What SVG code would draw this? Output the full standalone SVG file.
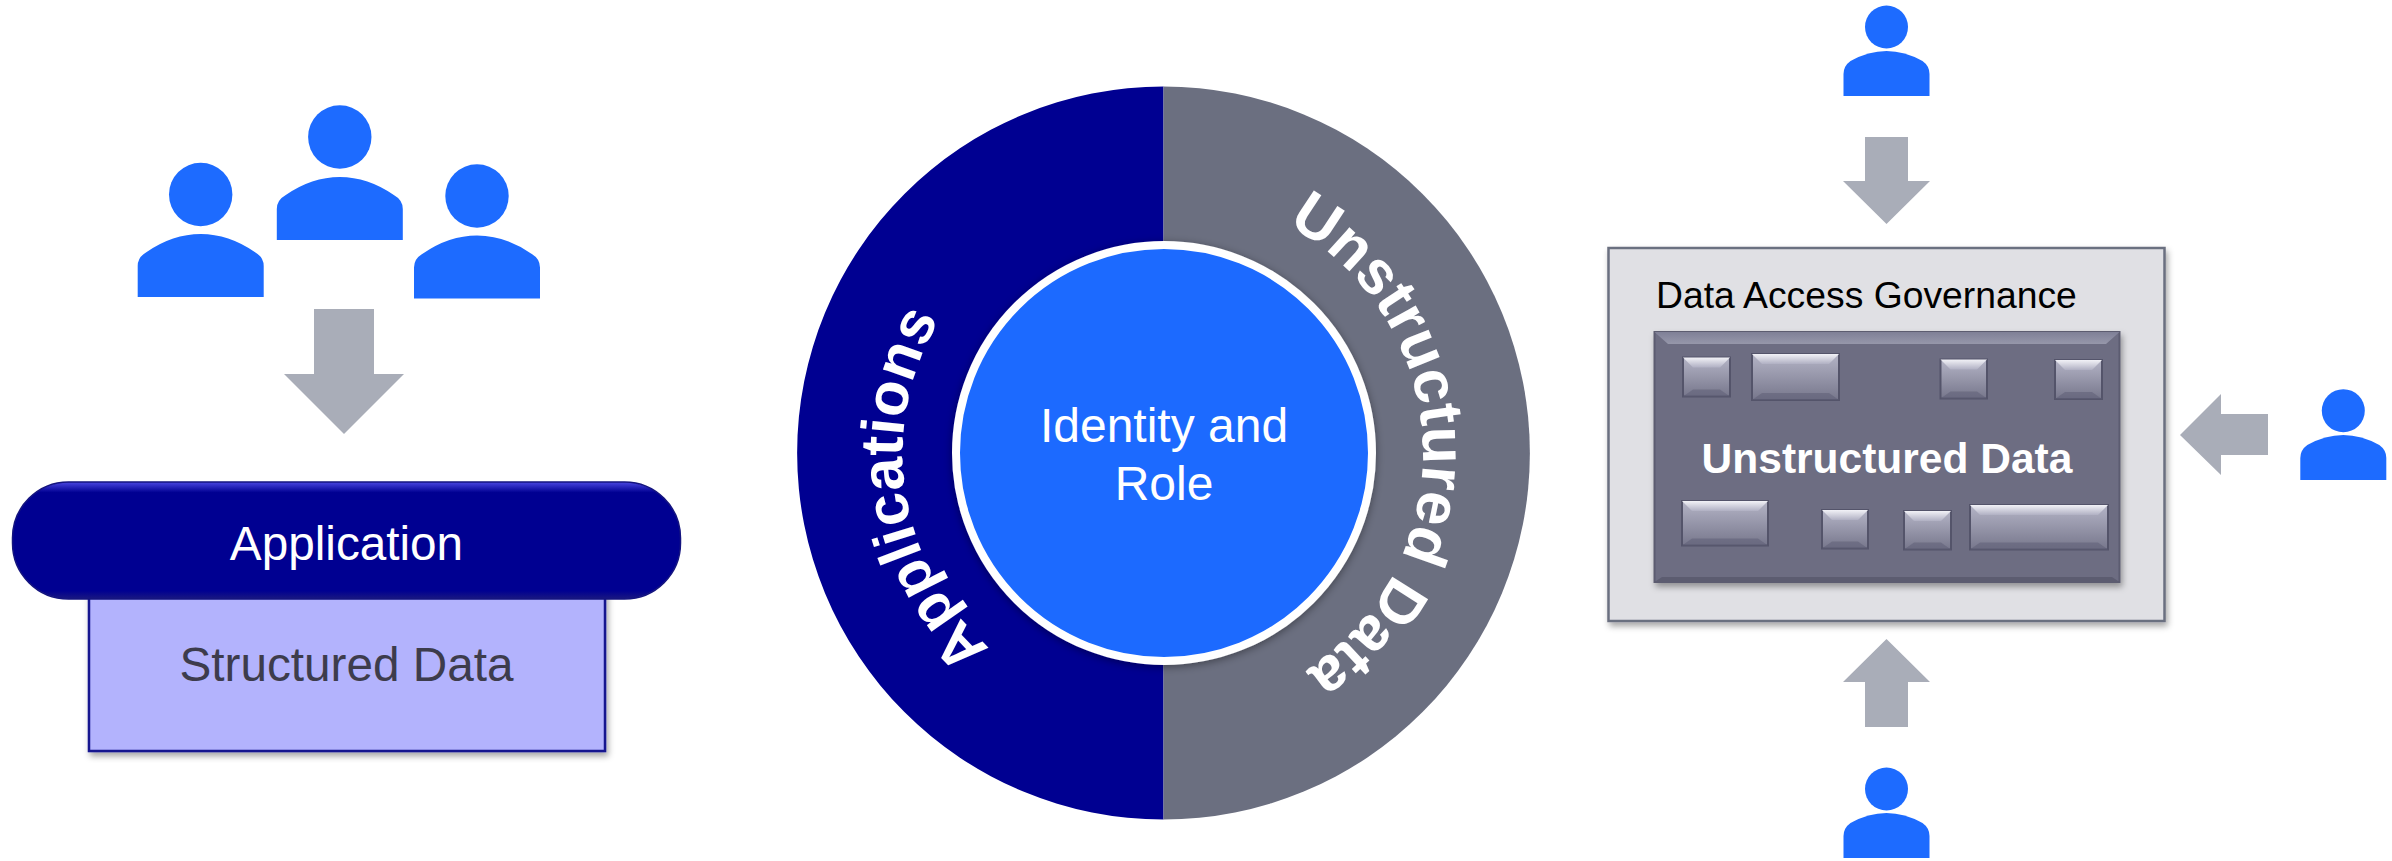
<svg xmlns="http://www.w3.org/2000/svg" width="2392" height="861" viewBox="0 0 2392 861">
<defs>
<style>
.p{fill:#1d6bff}
.a{fill:#a9adb8}
text{font-family:"Liberation Sans",Arial,sans-serif}
.c{text-anchor:middle}
.w{fill:#fff}
.b{font-weight:700}
.body{fill:url(#chip);stroke:#54546a;stroke-width:2}
.top{fill:url(#chipTop)}
.bot{fill:#5f5f76;opacity:.55}
</style>
<linearGradient id="chip" x1="0" y1="0" x2="0" y2="1"><stop offset="0" stop-color="#b4b4c6"/><stop offset="1" stop-color="#77778c"/></linearGradient>
<linearGradient id="chipTop" x1="0" y1="0" x2="0" y2="1"><stop offset="0" stop-color="#f2f2f7"/><stop offset="1" stop-color="#b0b0c3"/></linearGradient>
<linearGradient id="panelTop" x1="0" y1="0" x2="0" y2="1"><stop offset="0" stop-color="#7f8097"/><stop offset="1" stop-color="#9697aa"/></linearGradient>
<linearGradient id="rim" x1="0" y1="0" x2="0" y2="1"><stop offset="0" stop-color="#4a46e0"/><stop offset="0.09" stop-color="#000091"/><stop offset="0.93" stop-color="#000091"/><stop offset="1" stop-color="#1a1880"/></linearGradient>
<filter id="sh" x="-5%" y="-5%" width="110%" height="112%"><feDropShadow dx="2" dy="4" stdDeviation="3" flood-color="#000" flood-opacity="0.35"/></filter>
<filter id="glow" x="-5%" y="-5%" width="110%" height="110%"><feDropShadow dx="0" dy="2" stdDeviation="4" flood-color="#000" flood-opacity="0.4"/></filter>
<path id="person" d="M-63 35V4Q-63 -5 -54 -10Q-28 -28 0 -28Q28 -28 54 -10Q63 -5 63 4V35Z"/>
<path id="person-s" d="M-43 34V12Q-43 4 -36 -1Q-18 -11 0 -11Q18 -11 36 -1Q43 4 43 12V34Z"/>
<path id="apps" d="M990 648A260 260 0 0 1 1033.500 227.800"/>
<path id="unstr" d="M1287 224.500A260 260 0 0 1 1208.300 709"/>
</defs>
<g id="users-left">
<g class="p"><circle cx="200.700" cy="194.500" r="31.700"/><use href="#person" x="200.700" y="262"/></g>
<g class="p"><circle cx="339.800" cy="137" r="31.700"/><use href="#person" x="339.800" y="205"/></g>
<g class="p"><circle cx="477" cy="196" r="31.700"/><use href="#person" x="477" y="263.500"/></g>
</g>
<g id="connectors">
<polygon class="a" points="314,309 374,309 374,374 404,374 344,434 284,374 314,374"/>
<polygon class="a" points="1865,137 1908,137 1908,181 1930,181 1886.500,224 1843,181 1865,181"/>
<polygon class="a" points="1865,727 1908,727 1908,682 1930,682 1886.500,639 1843,682 1865,682"/>
<polygon class="a" points="2268,414 2268,455 2221,455 2221,475 2180,435 2221,394 2221,414"/>
</g>
<g id="structured-data">
<rect x="89" y="585" width="516" height="166" fill="#b3b3fd" stroke="#13138f" stroke-width="2.500" filter="url(#sh)"/>
<text class="c" x="346.500" y="681" font-size="47.700" fill="#3d3c4c">Structured Data</text>
</g>
<g id="application">
<rect x="12.500" y="482" width="668" height="117" rx="56" fill="url(#rim)" stroke="#14147f" stroke-width="1.500"/>
<text class="c w" x="346.500" y="559.500" font-size="47.700">Application</text>
</g>
<g id="ring">
<path d="M1163.500 86.500A366.500 366.500 0 0 0 1163.500 819.500Z" fill="#000091"/>
<path d="M1163.500 86.500A366.500 366.500 0 0 1 1163.500 819.500Z" fill="#6b6f80"/>
<text class="b w" font-size="60"><textPath href="#apps">Applications</textPath></text>
<text class="b w" font-size="61.500"><textPath href="#unstr">Unstructured Data</textPath></text>
</g>
<g id="identity">
<circle cx="1164" cy="453" r="208" fill="#1d6bff" stroke="#fff" stroke-width="8" filter="url(#glow)"/>
<text class="c w" x="1164" y="442" font-size="48">Identity and</text>
<text class="c w" x="1164" y="500" font-size="48">Role</text>
</g>
<g id="governance">
<rect x="1608.500" y="248" width="556" height="373" fill="#e0e0e4" stroke="#6b6f80" stroke-width="2.500" filter="url(#sh)"/>
<text x="1656" y="307.500" font-size="37.300" fill="#000">Data Access Governance</text>
<g id="unstructured-data">
<rect x="1654.500" y="332" width="465" height="250" fill="#6d6d82" stroke="#5c5c70" stroke-width="2" filter="url(#sh)"/>
<polygon points="1654.500,332 2119.500,332 2106,344 1668,344" fill="url(#panelTop)"/>
<polygon points="1654.500,582 2119.500,582 2112,577 1662,577" fill="#5c5c70"/>
<g id="chip-1"><rect class="body" x="1683" y="357.500" width="47" height="39"/><polygon class="top" points="1683,357.500 1730,357.500 1720,367.500 1693,367.500"/><polygon class="bot" points="1683,396.500 1730,396.500 1720,389.500 1693,389.500"/></g>
<g id="chip-2"><rect class="body" x="1752" y="354" width="87" height="46"/><polygon class="top" points="1752,354 1839,354 1829,364 1762,364"/><polygon class="bot" points="1752,400 1839,400 1829,393 1762,393"/></g>
<g id="chip-3"><rect class="body" x="1940.500" y="359.500" width="46.500" height="39"/><polygon class="top" points="1940.500,359.500 1987,359.500 1977,369.500 1950.500,369.500"/><polygon class="bot" points="1940.500,398.500 1987,398.500 1977,391.500 1950.500,391.500"/></g>
<g id="chip-4"><rect class="body" x="2055" y="360" width="47" height="39"/><polygon class="top" points="2055,360 2102,360 2092,370 2065,370"/><polygon class="bot" points="2055,399 2102,399 2092,392 2065,392"/></g>
<g id="chip-5"><rect class="body" x="1682" y="501" width="86" height="44.500"/><polygon class="top" points="1682,501 1768,501 1758,511 1692,511"/><polygon class="bot" points="1682,545.500 1768,545.500 1758,538.500 1692,538.500"/></g>
<g id="chip-6"><rect class="body" x="1822" y="510" width="46" height="38.500"/><polygon class="top" points="1822,510 1868,510 1858,520 1832,520"/><polygon class="bot" points="1822,548.500 1868,548.500 1858,541.500 1832,541.500"/></g>
<g id="chip-7"><rect class="body" x="1904" y="511" width="47" height="38.500"/><polygon class="top" points="1904,511 1951,511 1941,521 1914,521"/><polygon class="bot" points="1904,549.500 1951,549.500 1941,542.500 1914,542.500"/></g>
<g id="chip-8"><rect class="body" x="1970" y="505" width="138" height="44.500"/><polygon class="top" points="1970,505 2108,505 2098,515 1980,515"/><polygon class="bot" points="1970,549.500 2108,549.500 2098,542.500 1980,542.500"/></g>
<text class="c w b" x="1887" y="473" font-size="42.500">Unstructured Data</text>
</g>
</g>
<g id="user-top" class="p"><circle cx="1886.500" cy="27" r="21.500"/><use href="#person-s" x="1886.500" y="62"/></g>
<g id="user-right" class="p"><circle cx="2343.300" cy="410.700" r="21.500"/><use href="#person-s" x="2343.300" y="446"/></g>
<g id="user-bottom" class="p"><circle cx="1886.500" cy="789" r="21.500"/><use href="#person-s" x="1886.500" y="824"/></g>
</svg>
